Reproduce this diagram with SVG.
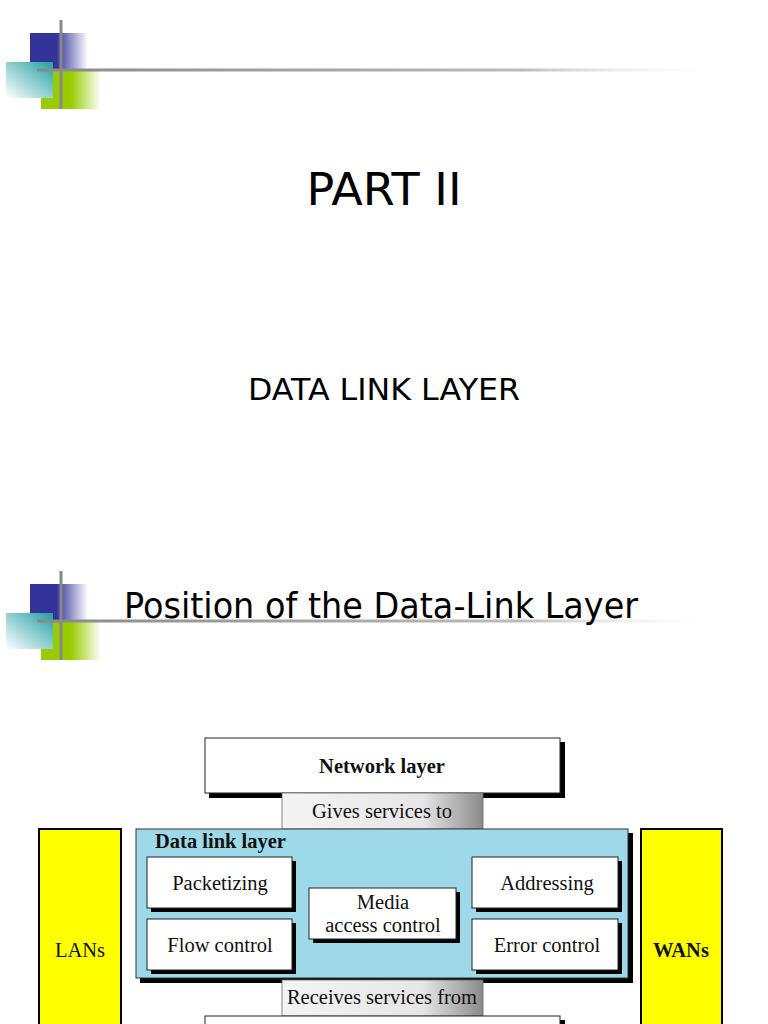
<svg xmlns="http://www.w3.org/2000/svg" width="768" height="1024" viewBox="0 0 768 1024">
<style>
.title{font-family:"DejaVu Sans","Verdana",sans-serif;fill:#000}
.lbl{font-family:"Liberation Serif","Times New Roman",serif;font-size:20.5px;fill:#111;text-anchor:middle}
.bold{font-weight:bold}
.box{fill:#fff;stroke:#222;stroke-width:1}
.sh{fill:#000}
.yel{fill:#ffff00;stroke:#000;stroke-width:2}
</style>
<defs>
<linearGradient id="gBlue" x1="0" y1="0" x2="1" y2="0">
<stop offset="0" stop-color="#333399"/><stop offset="0.45" stop-color="#333399"/><stop offset="1" stop-color="#333399" stop-opacity="0"/>
</linearGradient>
<linearGradient id="gGreen" x1="0" y1="0" x2="1" y2="0">
<stop offset="0" stop-color="#99cc00"/><stop offset="0.5" stop-color="#99cc00"/><stop offset="1" stop-color="#99cc00" stop-opacity="0"/>
</linearGradient>
<linearGradient id="gTeal" x1="1" y1="0" x2="0" y2="1">
<stop offset="0" stop-color="#22a0a4"/><stop offset="1" stop-color="#ffffff"/>
</linearGradient>
<linearGradient id="gLine" x1="0" y1="0" x2="1" y2="0">
<stop offset="0" stop-color="#888"/><stop offset="0.7" stop-color="#bbb"/><stop offset="1" stop-color="#fff" stop-opacity="0"/>
</linearGradient>
<linearGradient id="gSvc" x1="0" y1="0" x2="1" y2="0">
<stop offset="0" stop-color="#f4f4f4"/><stop offset="0.7" stop-color="#e6e6e6"/><stop offset="1" stop-color="#8a8a8a"/>
</linearGradient>
<g id="logo">
<rect x="30" y="0" width="58" height="36" fill="url(#gBlue)"/>
<rect x="41" y="36" width="60" height="40" fill="url(#gGreen)"/>
<rect x="6" y="29" width="47" height="36" fill="url(#gTeal)"/>
<rect x="59.5" y="-13" width="3" height="89" fill="#888"/>
<rect x="37" y="35.5" width="690" height="3" fill="url(#gLine)"/>
</g>
</defs>
<g id="logo1"><use href="#logo" x="0" y="33"/></g>
<g id="logo2"><use href="#logo" x="0" y="584"/></g>
<text class="title" x="384" y="205" font-size="45" text-anchor="middle" textLength="155" lengthAdjust="spacingAndGlyphs">PART II</text>
<text class="title" x="384" y="400" font-size="31" text-anchor="middle" textLength="272" lengthAdjust="spacingAndGlyphs">DATA LINK LAYER</text>
<text class="title" x="124" y="618" font-size="35" textLength="514" lengthAdjust="spacingAndGlyphs">Position of the Data-Link Layer</text>

<g id="lans">
<rect class="yel" x="39" y="829" width="82" height="200"/>
<text class="lbl" x="80" y="957" fill="#333">LANs</text>
</g>
<g id="wans">
<rect class="yel" x="641" y="829" width="81" height="200"/>
<text class="lbl bold" x="681" y="957">WANs</text>
</g>
<g id="network">
<rect class="sh" x="209" y="742" width="356" height="56"/>
<rect class="box" x="205" y="738" width="355" height="55"/>
<text class="lbl bold" x="382" y="773">Network layer</text>
</g>
<g id="gives">
<rect x="282" y="793" width="201" height="36" fill="url(#gSvc)" stroke="#666" stroke-width="0.8"/>
<text class="lbl" x="382" y="818" fill="#222">Gives services to</text>
</g>
<g id="datalink">
<rect class="sh" x="140" y="833" width="493" height="150"/>
<rect x="136" y="829" width="492" height="149" fill="#9dd9e8" stroke="#333" stroke-width="1"/>
<text class="lbl bold" x="155" y="848" style="text-anchor:start">Data link layer</text>
</g>
<g id="packetizing">
<rect class="sh" x="151" y="861" width="145" height="51"/>
<rect class="box" x="147" y="857" width="145" height="51"/>
<text class="lbl" x="220" y="890">Packetizing</text>
</g>
<g id="flow">
<rect class="sh" x="151" y="923" width="145" height="51"/>
<rect class="box" x="147" y="919" width="145" height="51"/>
<text class="lbl" x="220" y="952">Flow control</text>
</g>
<g id="mac">
<rect class="sh" x="313" y="892" width="147" height="51"/>
<rect class="box" x="309" y="888" width="147" height="51"/>
<text class="lbl" x="383" y="909">Media</text>
<text class="lbl" x="383" y="932">access control</text>
</g>
<g id="addressing">
<rect class="sh" x="476" y="861" width="146" height="51"/>
<rect class="box" x="472" y="857" width="146" height="51"/>
<text class="lbl" x="547" y="890">Addressing</text>
</g>
<g id="error">
<rect class="sh" x="476" y="923" width="146" height="51"/>
<rect class="box" x="472" y="919" width="146" height="51"/>
<text class="lbl" x="547" y="952">Error control</text>
</g>
<g id="receives">
<rect x="282" y="980" width="201" height="36" fill="url(#gSvc)" stroke="#666" stroke-width="0.8"/>
<text class="lbl" x="382" y="1004" fill="#222">Receives services from</text>
</g>
<g id="physical">
<rect class="sh" x="209" y="1020" width="356" height="20"/>
<rect class="box" x="205" y="1016" width="355" height="20"/>
</g>
<g id="connectors"></g>
</svg>
